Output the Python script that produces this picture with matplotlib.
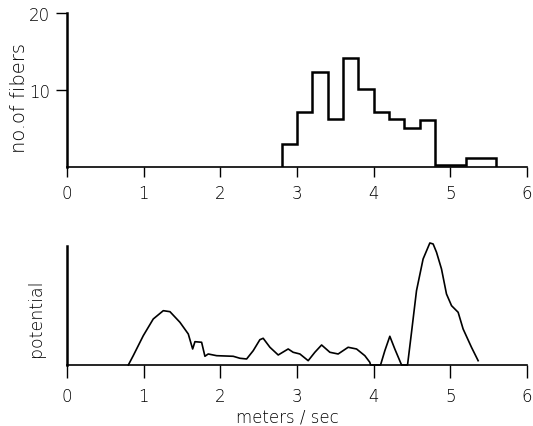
import numpy as np
import matplotlib
matplotlib.use("Agg")
from matplotlib import pyplot as plt

# histogram: number of fibers per 0.2 m/s bin
bin_edges = [2.8, 3.0, 3.2, 3.4, 3.6, 3.8, 4.0, 4.2, 4.4, 4.6, 4.8, 5.0, 5.2, 5.4, 5.6]
fiber_counts = [3, 7.2, 12.3, 6.3, 14.1, 10.1, 7.2, 6.3, 5.1, 6.1, 0.3, 0.3, 1.2, 1.2]

# compound potential trace (arbitrary units)
speed = [0.80, 0.864, 0.995, 1.125, 1.256, 1.343, 1.473, 1.582, 1.639, 1.669,
         1.756, 1.799, 1.842, 1.952, 2.168, 2.256, 2.343, 2.429, 2.516, 2.559,
         2.647, 2.755, 2.885, 2.95, 3.038, 3.146, 3.233, 3.321, 3.429, 3.537,
         3.667, 3.777, 3.885, 3.950, 3.96, 4.09, 4.146, 4.211, 4.276, 4.364,
         4.442, 4.494, 4.559, 4.645, 4.733, 4.776, 4.820, 4.885, 4.950, 5.016,
         5.102, 5.167, 5.276, 5.363]
potential = [0, 0.93, 2.93, 4.6, 5.43, 5.33, 4.27, 3.1, 1.6, 2.33,
             2.27, 0.87, 1.1, 0.93, 0.87, 0.67, 0.6, 1.43, 2.53, 2.67,
             1.77, 1.0, 1.6, 1.27, 1.1, 0.43, 1.27, 2.0, 1.27, 1.1,
             1.77, 1.6, 0.93, 0.27, 0, 0, 1.43, 2.87, 1.6, 0,
             0, 3.27, 7.43, 10.6, 12.2, 12.1, 11.27, 9.6, 7.1, 5.93,
             5.27, 3.6, 1.77, 0.43]

x_ticks = [0, 1, 2, 3, 4, 5, 6]

plt.rcParams['font.family'] = ['DejaVu Sans']
plt.rcParams['font.weight'] = 'light'
plt.rcParams['axes.labelweight'] = 'light'
plt.rcParams['font.size'] = 12

fig = plt.figure(figsize=(5.33, 4.27), dpi=100)

ax1 = fig.add_axes([0.1257, 0.6066, 0.863, 0.3604])
ax1.stairs(fiber_counts, bin_edges, baseline=0, color='black', linewidth=1.8)
ax1.set_xlim(0, 6)
ax1.set_ylim(0, 20)
ax1.set_xticks(x_ticks)
ax1.set_yticks([10, 20])
ax1.set_ylabel("no.of fibers", fontsize=14)
ax1.yaxis.set_label_coords(-0.082, 0.454)

ax2 = fig.add_axes([0.1257, 0.1429, 0.863, 0.2794])
ax2.plot(speed, potential, color='black', linewidth=1.2, clip_on=False)
ax2.set_xlim(0, 6)
ax2.set_ylim(0, 11.93)
ax2.set_xticks(x_ticks)
ax2.set_yticks([])
ax2.set_ylabel("potential", fontsize=12.5)
ax2.yaxis.set_label_coords(-0.047, 0.40)
ax2.set_xlabel("meters / sec", fontsize=12)
ax2.xaxis.set_label_coords(0.479, -0.36)

for ax in (ax1, ax2):
    ax.spines['top'].set_visible(False)
    ax.spines['right'].set_visible(False)
    ax.spines['left'].set_linewidth(1.8)
    ax.spines['bottom'].set_linewidth(1.2)
    ax.tick_params(axis='both', direction='out', length=7, width=1, pad=5)

ax1.tick_params(axis='y', length=8, pad=4)
ax2.tick_params(axis='x', length=9, pad=7)

fig.savefig("out.png", dpi=100)
